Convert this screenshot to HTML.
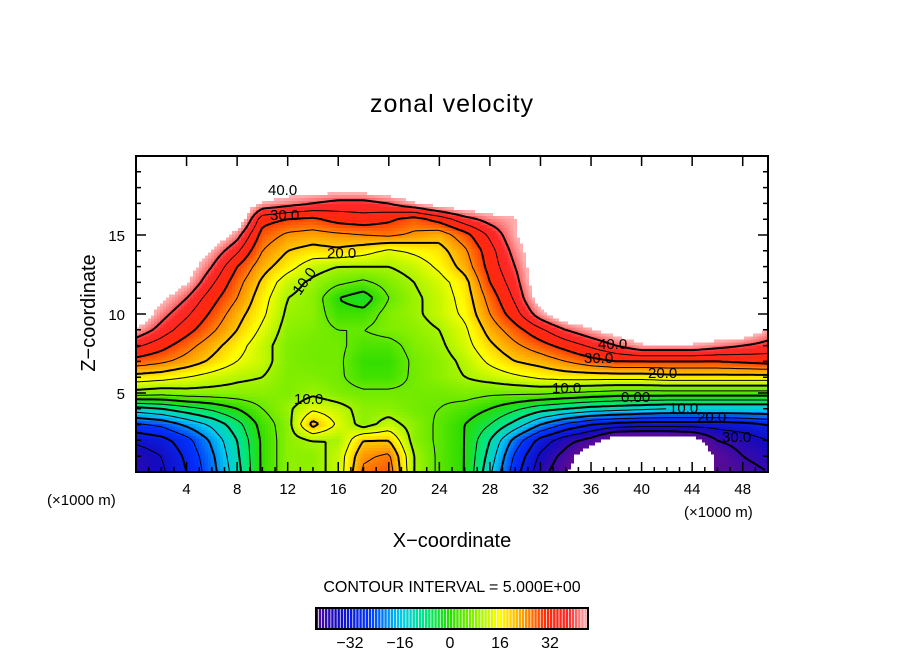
<!DOCTYPE html>
<html><head><meta charset="utf-8"><style>
body{margin:0;background:#fff;}
svg text{font-family:"Liberation Sans",sans-serif;fill:#000;}
</style></head><body>
<svg id="chart" width="904" height="654" xmlns="http://www.w3.org/2000/svg">
<rect width="904" height="654" fill="#fff"/>
<text x="452" y="112" font-size="25" text-anchor="middle" letter-spacing="1">zonal velocity</text>
<g id="field" shape-rendering="crispEdges"></g>
<g id="lines"></g>
<g id="labels" font-size="15"></g>
<rect x="136" y="156" width="632" height="316" fill="none" stroke="#000" stroke-width="2"/>
<g id="ticks"></g>
<text x="95" y="313" font-size="20" text-anchor="middle" transform="rotate(-90 95 313)">Z−coordinate</text>
<text x="452" y="547" font-size="20" text-anchor="middle">X−coordinate</text>
<text x="47" y="505" font-size="15">(×1000 m)</text>
<text x="684" y="517" font-size="15">(×1000 m)</text>
<text x="452" y="592" font-size="16" text-anchor="middle">CONTOUR INTERVAL = 5.000E+00</text>
<g id="cbar"></g>
</svg>
<script>
const xs=[0,2,4,6,8,10,12,14,16,18,20,22,24,26,28,30,32,34,36,38,40,42,44,46,48,50];
const zs=[20,19,18,17,16,15,14,13,12,11,10,9,8,7,6,5,4,3,2,1,0];
const row20=[50,50,50,50,50,50,50,50,50,50,50,50,50,50,50,50,50,50,50,50,50,50,50,50,50,50];
const row19=[50,50,50,50,50,50,50,50,50,50,50,50,50,50,50,50,50,50,50,50,50,50,50,50,50,50];
const row18=[50,50,50,50,50,50,48,48,48,48,50,50,50,50,50,50,50,50,50,50,50,50,50,50,50,50];
const row17=[50,50,50,50,50,44,42,40,38,38,40,44,48,50,50,50,50,50,50,50,50,50,50,50,50,50];
const row16=[50,50,50,50,50,32,30,29,32,33,31,28,32,38,42,44,50,50,50,50,50,50,50,50,50,50];
const row15=[50,50,50,50,42,28,24,23,24,25,26,24,22,28,36,44,50,50,50,50,50,50,50,50,50,50];
const row14=[50,50,50,44,36,25,20,18,19,17,14,16,18,24,33,42,50,50,50,50,50,50,50,50,50,50];
const row13=[50,50,48,40,30,22,17,12,10,10,10,12,16,22,32,40,50,50,50,50,50,50,50,50,50,50];
const row12=[50,50,45,36,27,19,12,9,6,4,7,10,13,18,30,38,50,50,50,50,50,50,50,50,50,50];
const row11=[50,46,40,32,25,17,10,8,0,-3,5,9,12,17,27,36,48,50,50,50,50,50,50,50,50,50];
const row10=[50,42,36,29,22,16,9,8,2,2,7,9,12,16,25,33,43,50,50,50,50,50,50,50,50,50];
const row9=[44,38,32,26,20,14,8,7,5,5,7,8,10,14,22,28,34,40,44,48,50,50,50,50,50,44];
const row8=[36,32,27,22,17,12,7,6,6,3,3,7,9,13,19,24,28,32,36,40,44,44,44,42,40,38];
const row7=[28,26,23,19,15,12,7,6,6,1,1,6,8,11,16,20,22,25,28,30,30,30,30,30,31,32];
const row6=[18,17,15,13,11,10,7,7,6,2,2,6,8,10,12,14,16,17,17,17,17,18,18,18,18,18];
const row5=[8,7,8,8,8,8,7,9,7,6,6,6,6,7,6,6,6,5,4,3,3,3,3,3,3,3];
const row4=[-12,-10,-7,-4,0,5,9,14,12,8,8,6,5,3,0,-4,-8,-10,-12,-13,-14,-15,-15,-15,-15,-15];
const row3=[-26,-24,-19,-14,-7,2,8,22,14,8,12,8,4,0,-5,-12,-20,-26,-30,-32,-33,-33,-33,-33,-32,-30];
const row2=[-34,-32,-27,-19,-10,1,8,10,10,20,20,8,4,0,-10,-22,-32,-38,-42,-50,-50,-50,-48,-40,-38,-35];
const row1=[-38,-35,-29,-21,-11,1,8,8,12,24,26,10,4,0,-12,-26,-36,-42,-50,-50,-50,-50,-50,-44,-40,-38];
const row0=[-38,-36,-30,-22,-12,1,8,8,12,26,28,10,4,0,-14,-28,-38,-44,-50,-50,-50,-50,-50,-44,-42,-40];
const field=[row20,row19,row18,row17,row16,row15,row14,row13,row12,row11,row10,row9,row8,row7,row6,row5,row4,row3,row2,row1,row0];
const xTicks=[4,8,12,16,20,24,28,32,36,40,44,48];
const zTicks=[5,10,15];
const levels=[-40,-35,-30,-25,-20,-15,-10,-5,0,5,10,15,20,25,30,35,40];
const cbarTicks=[-32,-16,0,16,32];

const X0=136,X1=768,Y0=472,Y1=156;
const sx=x=>X0+(x-0)/(50-0)*(X1-X0);
const sz=z=>Y0-(z-0)/(20-0)*(Y0-Y1);
const NS="http://www.w3.org/2000/svg";
function mk(t,a,p){const e=document.createElementNS(NS,t);for(const k in a)e.setAttribute(k,a[k]);p.appendChild(e);return e;}

function val(x,z){
  const fx=(x-xs[0])/(xs[xs.length-1]-xs[0])*(xs.length-1);
  const fz=(zs[0]-z)/(zs[0]-zs[zs.length-1])*(zs.length-1);
  let i=Math.min(Math.floor(fx),xs.length-2),j=Math.min(Math.floor(fz),zs.length-2);
  i=Math.max(i,0);j=Math.max(j,0);
  const u=fx-i,v=fz-j;
  return field[j][i]*(1-u)*(1-v)+field[j][i+1]*u*(1-v)+field[j+1][i]*(1-u)*v+field[j+1][i+1]*u*v;
}
const stops=[[-44,[90,10,150]],[-36,[20,10,190]],[-26,[0,50,255]],[-16,[0,200,240]],[-8,[0,230,130]],[0,[40,220,0]],[8,[140,240,0]],[16,[255,255,0]],[24,[255,150,0]],[31,[255,40,10]],[38,[255,40,40]],[44,[255,175,175]]];
function col(v){
  if(v>44.5||v<-44.5)return null;
  v=Math.max(-44,Math.min(44,v));
  for(let k=0;k<stops.length-1;k++){const a=stops[k],b=stops[k+1];
    if(v<=b[0]){const t=(v-a[0])/(b[0]-a[0]);return `rgb(${a[1].map((c,n)=>Math.round(c+(b[1][n]-c)*t)).join(',')})`;}}
  return null;
}
const fieldG=document.getElementById('field');
const CS=3,NX=Math.round((X1-X0)/CS),NZ=Math.round((Y0-Y1)/CS);
const CW=(X1-X0)/NX,CH=(Y0-Y1)/NZ;
for(let j=0;j<NZ;j++){for(let i=0;i<NX;i++){
  const x=(i+0.5)/NX*50,z=20-(j+0.5)/NZ*20;
  const c=col(val(x,z));if(!c)continue;
  const r=mk('rect',{x:(X0+i*CW).toFixed(2),y:(Y1+j*CH).toFixed(2),width:(CW+0.6).toFixed(2),height:(CH+0.6).toFixed(2),fill:c},fieldG);
  
  
}}
const grid=[];
for(let j=0;j<=NZ;j++){const r=[];for(let i=0;i<=NX;i++)r.push(val(i/NX*50,20-j/NZ*20));grid.push(r);}
const linesG=document.getElementById('lines');
levels.forEach(L=>{
  let d='';
  for(let j=0;j<NZ;j++)for(let i=0;i<NX;i++){
    const a=grid[j][i],b=grid[j][i+1],c=grid[j+1][i+1],e=grid[j+1][i];
    const pts=[];const px=X0+i*CW,py=Y1+j*CH;
    if((a-L)*(b-L)<0)pts.push([px+CW*(L-a)/(b-a),py]);
    if((b-L)*(c-L)<0)pts.push([px+CW,py+CH*(L-b)/(c-b)]);
    if((e-L)*(c-L)<0)pts.push([px+CW*(L-e)/(c-e),py+CH]);
    if((a-L)*(e-L)<0)pts.push([px,py+CH*(L-a)/(e-a)]);
    for(let k=0;k+1<pts.length;k+=2)d+=`M${pts[k][0].toFixed(1)},${pts[k][1].toFixed(1)}L${pts[k+1][0].toFixed(1)},${pts[k+1][1].toFixed(1)}`;
  }
  if(!d)return;
  const p=mk('path',{d:d,fill:'none',stroke:'#000','stroke-width':(L%10===0)?2:1},linesG);
  if(L<0)p.setAttribute('stroke-dasharray','5,3');
  
  
});
const lab=document.getElementById('labels');
[["40.0",268,195],["30.0",270,220],["20.0",327,258],["40.0",598,349],["30.0",584,363],["20.0",648,378],["10.0",552,393],["0.00",621,402],["10.0",669,413],["20.0",697,422],["30.0",722,442],["10.0",294,404]].forEach(t=>{
  const e=mk('text',{x:t[1],y:t[2]},lab);e.textContent=t[0];
  
  
});
const r10=mk('text',{x:300,y:296,transform:'rotate(-55 300 296)'},lab);r10.textContent='10.0';


const tg=document.getElementById('ticks');
let td='';
for(let x=0;x<=50;x+=1){const px=sx(x);const len=(x%4===0)?10:5;td+=`M${px},${Y0}v${-len}`;}
for(let x=4;x<=48;x+=4){td+=`M${sx(x)},${Y1}v10`;}
for(let z=0;z<=20;z+=1){const py=sz(z);const len=(z%5===0)?10:5;td+=`M${X0},${py}h${len}M${X1},${py}h${-len}`;}
mk('path',{d:td,stroke:'#000','stroke-width':1.5,fill:'none'},tg);
xTicks.forEach(x=>{const e=mk('text',{x:sx(x),y:494,'font-size':15,'text-anchor':'middle'},tg);e.textContent=x;
  });
zTicks.forEach(z=>{const e=mk('text',{x:125,y:sz(z)+6,'font-size':15,'text-anchor':'end'},tg);e.textContent=z;
  });
const cb=document.getElementById('cbar');
const cx=v=>450+v*3.125;
for(let v=-43;v<44;v+=1){const r=mk('rect',{x:cx(v),y:609,width:2.4,height:19,fill:col(v+0.5)},cb);
  }
mk('rect',{x:316,y:608,width:272,height:21,fill:'none',stroke:'#000','stroke-width':2},cb);
cbarTicks.forEach(v=>{const e=mk('text',{x:cx(v),y:648,'font-size':16,'text-anchor':'middle'},cb);e.textContent=(v<0?'−':'')+Math.abs(v);
  });
</script>
</body></html>
